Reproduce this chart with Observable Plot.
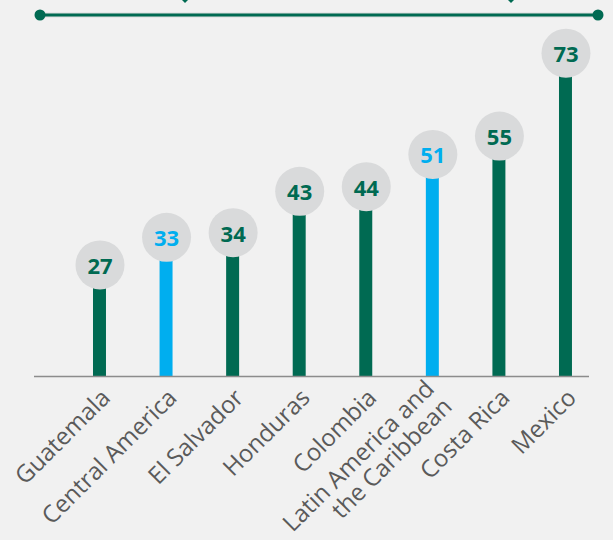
<!DOCTYPE html>
<html><head><meta charset="utf-8">
<script src="https://cdn.jsdelivr.net/npm/d3@7"></script>
<script src="https://cdn.jsdelivr.net/npm/@observablehq/plot@0.6"></script>
<style>
html,body{margin:0;padding:0;background:#f1f1f1;}
#wrap{position:relative;width:613px;height:540px;overflow:hidden;background:#f1f1f1;}
#deco{position:absolute;left:0;top:0;}
#chart{position:absolute;left:0;top:0;}
</style></head><body>
<div id="wrap"><div id="chart"></div>
<svg id="deco" width="613" height="30">
  <line x1="40" x2="598" y1="15" y2="15" stroke="#dcdedd" stroke-width="5"/>
  <line x1="40" x2="598" y1="15" y2="15" stroke="#006a52" stroke-width="3"/>
  <circle cx="40" cy="15" r="5.5" fill="#006a52"/>
  <circle cx="598" cy="15" r="5.5" fill="#006a52"/>
  <path d="M182,0 L188,0 L185,3 Z" fill="#006a52"/>
  <path d="M508,0 L514,0 L511,3 Z" fill="#006a52"/>
</svg></div>
<script>
const categories = ["Guatemala","Central America","El Salvador","Honduras","Colombia","Latin America and\nthe Caribbean","Costa Rica","Mexico"];
const values = [27,33,34,43,44,51,55,73];
const highlighted = ["Central America","Latin America and\nthe Caribbean"];
const groups = ["country","aggregate"];
const colors = ["#006a52","#00aeef"];

const data = categories.map((c,i)=>({category:c, value:values[i], group: highlighted.includes(c) ? "aggregate" : "country"}));
const yFloor = 7.2;

const chart = Plot.plot({
  width: 613, height: 540,
  marginTop: 41, marginBottom: 164, marginLeft: 34, marginRight: 24,
  style: {background: "transparent", fontFamily: "'Open Sans', sans-serif", overflow: "visible"},
  x: {domain: categories, paddingInner: 0.805, paddingOuter: 0.571, align: 0.776, round: false, label: null},
  y: {domain: [yFloor, 80], axis: null},
  color: {domain: groups, range: colors},
  marks: [
    Plot.barY(data, {x: "category", y: "value", fill: "group", clip: true}),
    Plot.ruleY([yFloor], {stroke: "#8c8c8c", strokeWidth: 1.5}),
    Plot.dot(data, {x: "category", y: "value", r: 24.5, fill: "#d9dadb", dy: -20.5}),
    Plot.text(data, {x: "category", y: "value", text: d => String(d.value), dy: -18.5, fill: "group", fontSize: 22, fontWeight: 700}),
    Plot.axisX({tickSize: 0, tickPadding: 17, dx: 6, tickRotate: -45, fontSize: 24, lineHeight: 1.05, fill: "#5a5a5a", label: null})
  ]
});
document.getElementById("chart").appendChild(chart);
</script>
</body></html>
